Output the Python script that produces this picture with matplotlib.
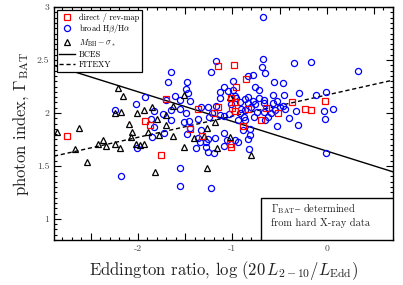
import numpy as np
import matplotlib
matplotlib.use("Agg")
import matplotlib.pyplot as plt
from matplotlib.ticker import MultipleLocator, FuncFormatter
from matplotlib.patches import Rectangle

plt.rcParams['font.family'] = ['cmr10', 'DejaVu Serif']
plt.rcParams['mathtext.fontset'] = 'cm'
plt.rcParams['axes.unicode_minus'] = False

# direct / reverberation-mapped masses
rm_x = [-2.75, -1.76, -1.93, -1.87, -1.70, -1.45, -1.37, -1.15, -0.98, -0.86,
        -0.96, -1.02, -1.15, -1.19, -1.00, -0.97, -0.84, -0.64, -0.52, -0.70,
        -0.89, -0.37, -0.23, -0.17, -0.02, -1.32, -1.03, -1.01, -0.97]
rm_y = [1.78, 1.60, 1.92, 1.89, 2.13, 1.85, 2.04, 2.44, 2.45, 2.32,
        2.25, 2.14, 2.06, 2.00, 2.05, 2.02, 2.04, 2.05, 2.00, 1.93,
        1.88, 2.10, 2.04, 2.03, 2.11, 1.78, 1.71, 1.68, 2.10]

# broad-line (Hbeta / Halpha) masses
bl_x = [-2.18, -2.01, -1.93, -2.02, -2.24, -1.83, -1.74, -1.86, -1.83, -1.72,
        -1.85, -1.56, -1.56, -1.39, -1.65, -1.56, -1.49, -1.65, -1.46, -1.51,
        -1.36, -1.45, -1.48, -1.65, -1.68, -1.48, -1.49, -1.47, -1.45, -1.61,
        -1.56, -1.70, -1.33, -1.26, -1.25, -1.17, -1.17, -1.23, -1.13, -1.09,
        -1.05, -0.99, -0.97, -0.92, -0.91, -0.92, -0.88, -0.94, -1.04, -1.09,
        -0.99, -1.13, -0.96, -1.26, -1.18, -1.28, -1.34, -1.26, -1.20, -1.09,
        -1.09, -1.06, -0.97, -0.94, -1.28, -1.23, -0.68, -0.68, -0.69, -0.66,
        -0.78, -0.83, -0.35, -0.17, 0.33, -0.56, -0.46, -0.76, -0.72, -0.57,
        -0.45, -0.30, -0.12, -0.01, -0.83, -0.87, -0.84, -0.78, -0.76, -0.67,
        -0.67, -0.57, -0.53, -0.50, -0.46, -0.44, -0.55, -0.74, -0.67, -0.59,
        -0.62, -0.66, -0.33, -0.40, -0.31, -0.53, -0.87, -0.87, -0.81, -0.81,
        -0.83, -0.82, -0.77, 0.06, -0.03, -0.02, -0.01, -0.89, -1.33, -1.36,
        -1.22, -1.13, -1.02, -0.80, -0.72, -0.61]
bl_y = [1.40, 1.67, 2.15, 2.08, 2.03, 2.02, 1.99, 1.94, 1.87, 1.81,
        1.77, 1.48, 1.31, 1.67, 2.03, 2.04, 2.00, 1.93, 1.92, 1.91,
        1.94, 1.86, 1.80, 2.39, 2.29, 2.29, 2.23, 2.19, 2.11, 2.16,
        2.12, 2.12, 2.06, 2.06, 1.96, 2.07, 2.49, 2.39, 2.20, 2.25,
        2.21, 2.22, 2.16, 2.10, 2.04, 2.00, 1.96, 1.93, 1.99, 1.97,
        2.30, 2.14, 2.14, 1.75, 1.76, 1.73, 1.73, 1.63, 1.62, 1.81,
        1.69, 1.74, 1.74, 1.73, 1.68, 1.29, 2.91, 2.51, 2.43, 2.38,
        2.36, 2.35, 2.47, 2.48, 2.40, 2.29, 2.28, 2.25, 2.22, 2.17,
        2.17, 2.19, 2.17, 2.20, 2.15, 2.13, 2.09, 2.11, 2.08, 2.12,
        2.09, 2.09, 2.11, 2.06, 2.07, 2.04, 2.03, 2.01, 2.01, 2.00,
        1.96, 1.93, 2.02, 1.95, 1.89, 1.88, 2.03, 1.93, 1.85, 1.79,
        1.75, 1.66, 1.96, 2.04, 2.02, 1.94, 1.62, 1.84, 1.84, 1.76,
        2.00, 1.98, 2.08, 2.06, 2.14, 2.05]

# M_BH - sigma_* masses
ms_x = [-2.86, -2.62, -2.67, -2.54, -2.42, -2.37, -2.34, -2.24, -2.19, -2.21,
        -2.16, -2.24, -2.18, -2.01, -1.94, -1.85, -2.10, -2.06, -2.07, -2.02,
        -1.98, -1.94, -1.89, -1.80, -1.78, -1.70, -1.70, -1.82, -1.63, -1.51,
        -1.63, -1.51, -1.41, -1.30, -1.27, -1.18, -1.16, -1.03, -1.27, -1.03,
        -0.80]
ms_y = [1.82, 1.86, 1.66, 1.54, 1.71, 1.74, 1.69, 1.71, 1.67, 2.24,
        2.16, 2.00, 2.01, 2.00, 2.03, 2.06, 1.90, 1.82, 1.77, 1.71,
        1.70, 1.71, 1.82, 1.94, 1.79, 1.98, 1.89, 1.44, 2.07, 2.17,
        1.78, 1.68, 1.76, 1.78, 1.86, 1.91, 1.67, 1.77, 1.48, 2.15,
        1.60]

# regression fits: (intercept, slope)
bces_fit = (1.64, -0.28)
fitexy_fit = (2.17, 0.20)

fig = plt.figure(figsize=(4.03, 2.85), dpi=100)
ax = fig.add_axes([0.134, 0.158, 0.841, 0.817])

ax.plot(rm_x, rm_y, 's', ms=3.8, mfc='none', mec='#ff0000', mew=0.9,
        label='direct / rev-map', zorder=4)
ax.plot(bl_x, bl_y, 'o', ms=4.4, mfc='none', mec='#0000ff', mew=0.9,
        label=r'broad H$\beta$/H$\alpha$', zorder=3)
ax.plot(ms_x, ms_y, '^', ms=4.4, mfc='none', mec='black', mew=0.9,
        label=r'$M_{\rm BH}-\sigma_*$', zorder=3)

xlim = (-2.89, 0.70)
xx = np.linspace(xlim[0], xlim[1], 10)
ax.plot(xx, bces_fit[0] + bces_fit[1] * xx, '-', color='black', lw=1.0,
        label='BCES', zorder=2)
ax.plot(xx, fitexy_fit[0] + fitexy_fit[1] * xx, '--', color='black', lw=1.0,
        dashes=(3, 2), label='FITEXY', zorder=2)

ax.set_xlim(*xlim)
ax.set_ylim(0.8, 3.0)

ax.xaxis.set_major_locator(MultipleLocator(0.5))
ax.xaxis.set_minor_locator(MultipleLocator(0.1))
ax.yaxis.set_major_locator(MultipleLocator(0.5))
ax.yaxis.set_minor_locator(MultipleLocator(0.05))

def xfmt(v, pos):
    # only the integer ticks carry a label
    if abs(v - round(v)) < 1e-6:
        return '%d' % round(v)
    return ''

ax.xaxis.set_major_formatter(FuncFormatter(xfmt))
ax.yaxis.set_major_formatter(FuncFormatter(lambda v, pos: '%g' % v))
ax.tick_params(which='both', direction='in', top=True, right=True,
               labelsize=7, labelcolor='#444444', width=0.8)
ax.tick_params(which='major', length=5)
ax.tick_params(which='minor', length=2.5)
for s in ax.spines.values():
    s.set_linewidth(1.0)

ax.set_xlabel(r'Eddington ratio, $\log\,(20\,L_{2-10}/L_{\rm Edd})$',
              fontsize=12, color='#222222', labelpad=4)
ax.set_ylabel(r'photon index, $\Gamma_{\rm BAT}$', fontsize=12,
              color='#222222', labelpad=4)

leg = ax.legend(loc='upper left', fontsize=6, frameon=True, fancybox=False,
                framealpha=1, edgecolor='black', borderpad=0.35,
                labelspacing=0.2, handlelength=1.9, handletextpad=0.4,
                borderaxespad=0.3)
leg.get_frame().set_linewidth(0.9)

# note box in the lower right corner, flush with the axes frame
ax.add_patch(Rectangle((0.611, 0.0), 0.389, 0.18, transform=ax.transAxes,
                       fc='white', ec='black', lw=1.0, zorder=6))
ax.text(0.640, 0.105,
        r'$\Gamma_{\rm BAT}$' + '$\u2013$ determined\nfrom hard X-ray data',
        transform=ax.transAxes, ha='left', va='center', fontsize=7.5,
        color='#222222', linespacing=1.25, zorder=7)

fig.savefig('out.png', dpi=100)
